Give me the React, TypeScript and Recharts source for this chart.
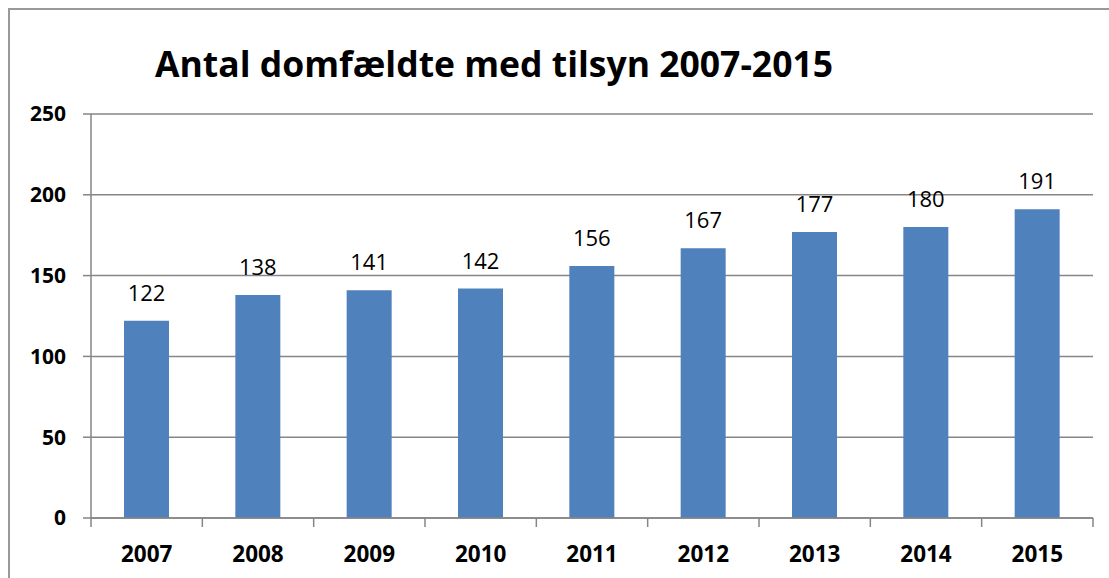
import React from "react";
import { BarChart, Bar, XAxis, YAxis, CartesianGrid, LabelList } from "recharts";

const years = ["2007", "2008", "2009", "2010", "2011", "2012", "2013", "2014", "2015"];
const counts = [122, 138, 141, 142, 156, 167, 177, 180, 191];
const yTicks = [0, 50, 100, 150, 200, 250];

const data = years.map((year, i) => ({ year, count: counts[i] }));

const FONT = "'Open Sans', sans-serif";
const AXIS = "#868686";

// Excel-style x ticks: boundary tick marks between categories, bold label in the middle
function XTick(props: any) {
  const { x, y, payload, index, visibleTicksCount, width } = props;
  const half = width / visibleTicksCount / 2;
  return (
    <g>
      <line x1={x - half} y1={y - 2} x2={x - half} y2={y + 7} stroke={AXIS} strokeWidth={1.5} />
      {index === visibleTicksCount - 1 && (
        <line x1={x + half} y1={y - 2} x2={x + half} y2={y + 7} stroke={AXIS} strokeWidth={1.5} />
      )}
      <text x={x} y={y + 42} textAnchor="middle" fontFamily={FONT} fontWeight="bold" fontSize={22.5} fill="#000">
        {payload.value}
      </text>
    </g>
  );
}

export default function App() {
  return (
    <div style={{ position: "fixed", left: 0, top: 0, width: 1109, height: 578, background: "#fff", overflow: "hidden" }}>
      <div style={{ position: "absolute", left: 8, top: 8, width: 1120, height: 600, borderTop: "2px solid #999", borderLeft: "2px solid #999" }} />
      <div style={{ position: "absolute", left: 155, top: 39, fontFamily: FONT, fontWeight: "bold", fontSize: 35.5, whiteSpace: "nowrap", color: "#000" }}>
        Antal domfældte med tilsyn 2007-2015
      </div>
      <div style={{ position: "absolute", left: 0, top: 0 }}>
        <BarChart width={1109} height={578} data={data} margin={{ top: 114, right: 16, bottom: 0, left: 0 }} barSize={45}>
          <CartesianGrid vertical={false} stroke={AXIS} strokeWidth={1.5} />
          <XAxis
            dataKey="year"
            height={60}
            axisLine={{ stroke: AXIS, strokeWidth: 1.5 }}
            tickLine={false}
            tickSize={0}
            tick={<XTick />}
            interval={0}
          />
          <YAxis
            width={91}
            domain={[0, 250]}
            ticks={yTicks}
            interval={0}
            axisLine={{ stroke: AXIS, strokeWidth: 1.5 }}
            tickLine={{ stroke: AXIS, strokeWidth: 1.5 }}
            tickSize={8}
            tickMargin={17}
            tick={{ fontFamily: FONT, fontWeight: "bold", fontSize: 21, fill: "#000" }}
          />
          <Bar dataKey="count" fill="#4F81BD" isAnimationActive={false}>
            <LabelList dataKey="count" position="top" offset={20} fontFamily={FONT} fontSize={22} fill="#000" />
          </Bar>
        </BarChart>
      </div>
    </div>
  );
}
